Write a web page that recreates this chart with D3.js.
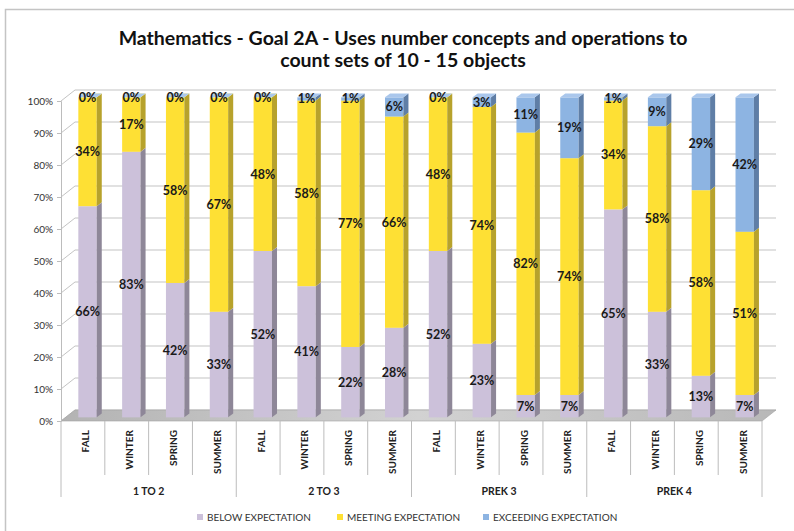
<!DOCTYPE html>
<html>
<head>
<meta charset="utf-8">
<script src="https://cdn.jsdelivr.net/npm/d3@7"></script>
<style>
  body { margin: 0; background: #fff; }
  svg { display: block; font-family: Lato, "Open Sans", sans-serif; }
</style>
</head>
<body>
<svg id="chart" width="794" height="531"></svg>
<script>
// chart data
const groups = ["1 TO 2", "2 TO 3", "PREK 3", "PREK 4"];
const seasons = ["FALL", "WINTER", "SPRING", "SUMMER"];
const below = [66, 83, 42, 33, 52, 41, 22, 28, 52, 23, 7, 7, 65, 33, 13, 7];
const meeting = [34, 17, 58, 67, 48, 58, 77, 66, 48, 74, 82, 74, 34, 58, 58, 51];
const exceeding = [0, 0, 0, 0, 0, 1, 1, 6, 0, 3, 11, 19, 1, 9, 29, 42];
const seriesNames = ["BELOW EXPECTATION", "MEETING EXPECTATION", "EXCEEDING EXPECTATION"];
const yTicks = [0, 10, 20, 30, 40, 50, 60, 70, 80, 90, 100];

const colors = [
  { front: "#ccc1da", side: "#8e8798", top: "#ddd5e7" },
  { front: "#fee034", side: "#b7a22c", top: "#ffea72" },
  { front: "#8db4e2", side: "#5f7ea6", top: "#aac7ec" }
];

const svg = d3.select("#chart");

// outer frame
svg.append("rect")
  .attr("x", 5.5).attr("y", 9.5)
  .attr("width", 820).attr("height", 560)
  .attr("fill", "#fff").attr("stroke", "#c4c4c4").attr("stroke-width", 1.5);

// title
svg.append("text")
  .attr("x", 403).attr("y", 45)
  .attr("text-anchor", "middle")
  .style("font-size", "19.5px").style("font-weight", "bold").attr("fill", "#111")
  .selectAll("tspan")
  .data(["Mathematics - Goal 2A - Uses number concepts and operations to", "count sets of 10 - 15 objects"])
  .enter().append("tspan")
  .attr("x", 403)
  .attr("dy", (d, i) => i ? 22 : 0)
  .text(d => d);

// 3d geometry
const DX = 14, DY = -11;
const rows = below.map((b, i) => ({
  key: i,
  group: groups[Math.floor(i / 4)],
  season: seasons[i % 4],
  below: b, meeting: meeting[i], exceeding: exceeding[i]
}));

const x = d3.scaleBand().domain(rows.map(d => d.key)).range([61, 762]);
const y = d3.scaleLinear().domain([0, 100]).range([421, 101]);
const barW = x.bandwidth() * 0.42;

// back wall gridlines + diagonals
const grid = svg.append("g");
yTicks.forEach(t => {
  grid.append("path")
    .attr("d", `M${61},${y(t)}L${61 + DX},${y(t) + DY}H${762 + DX}`)
    .attr("fill", "none").attr("stroke", "#c3c3c3").attr("stroke-width", 1);
});

// floor
const defs = svg.append("defs");
const fg = defs.append("linearGradient").attr("id", "floor").attr("x1", 0).attr("y1", 0).attr("x2", 1).attr("y2", 0);
fg.append("stop").attr("offset", "0%").attr("stop-color", "#b3b3b3");
fg.append("stop").attr("offset", "50%").attr("stop-color", "#d2d2d2");
fg.append("stop").attr("offset", "100%").attr("stop-color", "#b8b8b8");
svg.append("path")
  .attr("d", `M61,${y(0)}L${61 + DX},${y(0) + DY}H${762 + DX}L762,${y(0)}Z`)
  .attr("fill", "url(#floor)").attr("stroke", "#a3a3a3").attr("stroke-width", 0.6);

// y axis
const yAxis = svg.append("g")
  .attr("transform", "translate(61,0)")
  .call(d3.axisLeft(y).tickValues(yTicks).tickSize(4).tickFormat(d => d + "%"));
yAxis.select(".domain").attr("stroke", "#bcbcbc");
yAxis.selectAll(".tick line").attr("stroke", "#bcbcbc");
yAxis.selectAll(".tick text")
  .attr("x", -8).attr("fill", "#333")
  .style("font-size", "10px").style("font-family", "Lato, sans-serif");

// stacked bars
const stack = d3.stack().keys(["below", "meeting", "exceeding"]);
const layers = stack(rows);
const fOff = { dx: DX * 0.33, dy: DY * 0.33 };
const depth = { dx: DX * 0.36, dy: DY * 0.36 };
const barX = d => x(d.data.key) + (x.bandwidth() - barW) / 2 + fOff.dx;

const bars = svg.append("g");
rows.forEach((r, i) => {
  layers.forEach((layer, li) => {
    const seg = layer[i];
    const x0 = barX(seg), x1 = x0 + barW;
    const yb = y(seg[0]) + fOff.dy, yt = y(seg[1]) + fOff.dy;
    const c = colors[li];
    bars.append("rect")
      .attr("x", x0).attr("y", yt).attr("width", barW).attr("height", Math.max(0, yb - yt))
      .attr("fill", c.front);
    bars.append("path")
      .attr("d", `M${x1},${yb}L${x1},${yt}l${depth.dx},${depth.dy}L${x1 + depth.dx},${yb + depth.dy}Z`)
      .attr("fill", c.side);
    bars.append("path")
      .attr("d", `M${x0},${yt}H${x1}l${depth.dx},${depth.dy}H${x0 + depth.dx}Z`)
      .attr("fill", c.top);
  });
});

// data labels
const labels = svg.append("g")
  .attr("text-anchor", "middle")
  .style("font-size", "12.5px").style("font-weight", "bold").attr("fill", "#1a1a1a");
layers.forEach(layer => {
  layer.forEach(seg => {
    labels.append("text")
      .attr("x", barX(seg) + barW / 2)
      .attr("y", (y(seg[0]) + y(seg[1])) / 2 + fOff.dy)
      .attr("dy", "0.36em")
      .text((seg[1] - seg[0]) + "%");
  });
});

// x axis: season ticks and labels
const xa = svg.append("g");
rows.forEach((r, i) => {
  const bx = x(r.key);
  xa.append("line")
    .attr("x1", bx).attr("x2", bx)
    .attr("y1", y(0)).attr("y2", i % 4 === 0 ? 497 : 475)
    .attr("stroke", "#bcbcbc");
  xa.append("text")
    .attr("transform", `translate(${bx + x.bandwidth() / 2 + 3},430) rotate(-90)`)
    .attr("text-anchor", "end").attr("dy", "0.35em")
    .style("font-size", "10px").style("font-weight", "bold").attr("fill", "#222")
    .text(r.season);
});
xa.append("line")
  .attr("x1", 762).attr("x2", 762).attr("y1", y(0)).attr("y2", 497)
  .attr("stroke", "#bcbcbc");
groups.forEach((g, gi) => {
  const gx0 = x(gi * 4), gx1 = x(gi * 4 + 3) + x.bandwidth();
  xa.append("text")
    .attr("x", (gx0 + gx1) / 2).attr("y", 495)
    .attr("text-anchor", "middle")
    .style("font-size", "10.5px").style("font-weight", "bold").attr("fill", "#222")
    .text(g);
});

// legend
const legendX = [197, 337, 483];
const legend = svg.append("g").style("font-size", "10px").attr("fill", "#333");
seriesNames.forEach((n, i) => {
  legend.append("rect")
    .attr("x", legendX[i]).attr("y", 514).attr("width", 6).attr("height", 6)
    .attr("fill", colors[i].front);
  legend.append("text")
    .attr("x", legendX[i] + 10).attr("y", 521)
    .text(n);
});
</script>
</body>
</html>
